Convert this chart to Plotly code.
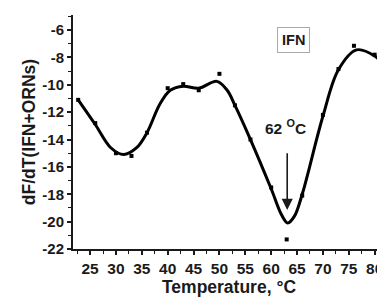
import plotly.graph_objects as go

# measured data points
temp_pts = [22.7, 26.0, 30.0, 33.0, 36.0, 40.0, 43.0, 46.0, 50.0, 53.0, 56.0, 60.0, 63.0, 66.0, 70.0, 73.0, 76.0, 80.0]
dfdt_pts = [-11.1, -12.8, -15.0, -15.2, -13.5, -10.25, -9.95, -10.4, -9.2, -11.5, -14.0, -17.5, -21.3, -18.1, -12.2, -8.85, -7.15, -7.8]

# smoothed fit curve
temp_fit = [22.7, 26.0, 29.0, 31.5, 34.0, 36.0, 38.5, 40.5, 43.0, 46.0, 49.5, 51.5, 53.0, 56.0, 60.0, 62.0, 63.2, 64.5, 66.0, 70.0, 73.0, 76.5, 80.0, 82.0]
dfdt_fit = [-11.1, -12.9, -14.6, -15.1, -14.6, -13.5, -11.4, -10.4, -10.1, -10.25, -9.75, -10.4, -11.5, -14.0, -17.6, -19.5, -20.1, -19.6, -18.0, -12.3, -8.9, -7.45, -7.9, -8.7]

x_ticks = [25, 30, 35, 40, 45, 50, 55, 60, 65, 70, 75, 80]
y_ticks = [-22, -20, -18, -16, -14, -12, -10, -8, -6]

FONT = "Liberation Sans"
INK = "#1a1a1a"

fig = go.Figure()
fig.add_trace(go.Scatter(x=temp_fit, y=dfdt_fit, mode="lines",
                         line=dict(color="black", width=3, shape="spline", smoothing=1.0),
                         hoverinfo="skip", showlegend=False))
fig.add_trace(go.Scatter(x=temp_pts, y=dfdt_pts, mode="markers",
                         marker=dict(symbol="square", size=4, color="black"),
                         showlegend=False))

# page body has an 8px margin, so the figure is sized/placed to compensate
fig.update_layout(
    width=377, height=290,
    margin=dict(l=65, r=0, t=7, b=49),
    plot_bgcolor="white", paper_bgcolor="white",
    font=dict(family=FONT, size=14, color=INK),
    showlegend=False,
    xaxis=dict(range=[21.7, 82], tickvals=x_ticks, ticktext=[f"<b>{v}</b>" for v in x_ticks],
               automargin=False,
               showgrid=False, zeroline=False, showline=True, linecolor=INK, linewidth=2,
               ticks="outside", ticklen=4, tickwidth=1.5, tickcolor=INK,
               minor=dict(dtick=2.5, tick0=22.5, ticks="outside", ticklen=3, tickwidth=1.2, tickcolor=INK),
               tickfont=dict(size=15.5, family=FONT, color=INK),
               title=dict(text="<b>Temperature, °C</b>", font=dict(size=17.5, family=FONT, color=INK), standoff=3)),
    yaxis=dict(range=[-22, -4.9], tickvals=y_ticks, ticktext=[f"<b>{v}</b>" for v in y_ticks],
               automargin=False,
               showgrid=False, zeroline=False, showline=True, linecolor=INK, linewidth=2,
               ticks="outside", ticklen=4, tickwidth=1.5, tickcolor=INK,
               minor=dict(dtick=1, tick0=-22, ticks="outside", ticklen=3, tickwidth=1.2, tickcolor=INK),
               tickfont=dict(size=15, family=FONT, color=INK),
               title=dict(text="<b>dF/dT(IFN+ORNs)</b>", font=dict(size=17.5, family=FONT, color=INK), standoff=2)),
)

fig.add_annotation(x=63.1, y=-19.15, ax=63.1, ay=-14.9, axref="x", ayref="y", xref="x", yref="y",
                   text="", showarrow=True, arrowhead=2, arrowsize=1.4, arrowwidth=1.6, arrowcolor=INK)
fig.add_annotation(x=62.8, y=-13.1, xref="x", yref="y", text="<b>62 <sup>O</sup>C</b>",
                   showarrow=False, font=dict(size=15.5, family=FONT, color=INK))
fig.add_annotation(x=64.4, y=-6.73, xref="x", yref="y", text="<b>IFN</b>", showarrow=False,
                   font=dict(size=14.5, family=FONT, color=INK),
                   bordercolor="#aaaaaa", borderwidth=1, borderpad=4, bgcolor="white")

fig.write_html("out.html")
